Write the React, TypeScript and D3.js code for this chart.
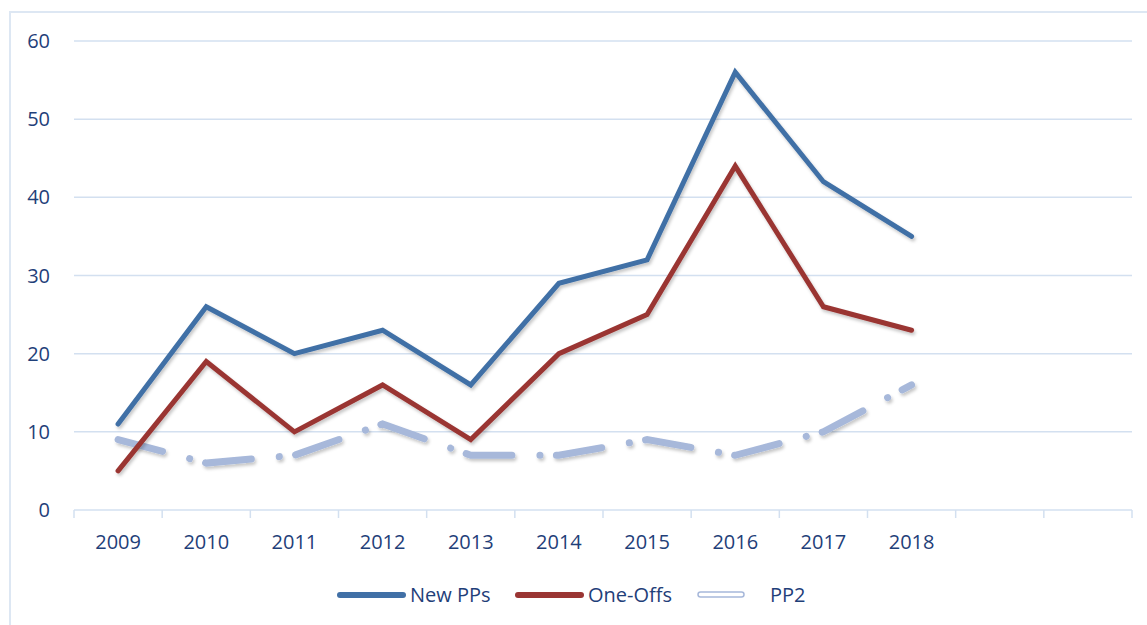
import React, { useEffect, useRef } from "react";
import * as d3 from "d3";

const years = ["2009", "2010", "2011", "2012", "2013", "2014", "2015", "2016", "2017", "2018"];
// two empty slots on the right of the axis
const emptySlots = ["_e1", "_e2"];
const newPPs = [11, 26, 20, 23, 16, 29, 32, 56, 42, 35];
const oneOffs = [5, 19, 10, 16, 9, 20, 25, 44, 26, 23];
const pp2 = [9, 6, 7, 11, 7, 7, 9, 7, 10, 16];
const yTicks = [0, 10, 20, 30, 40, 50, 60];

const textColor = "#1f4079";
const gridColor = "#d3e0f0";

export default function App() {
  const ref = useRef<SVGSVGElement>(null);

  useEffect(() => {
    const svg = d3.select(ref.current);
    svg.selectAll("*").remove();

    const font = "'Open Sans', sans-serif";
    const slots = years.concat(emptySlots);
    const x = d3.scaleBand<string>().domain(slots).range([74, 1132]);
    const y = d3.scaleLinear().domain([0, 60]).range([510, 41]);

    const defs = svg.append("defs");
    const f = defs.append("filter").attr("id", "shadow").attr("x", "-10%").attr("y", "-10%").attr("width", "120%").attr("height", "130%");
    f.append("feDropShadow").attr("dx", 1.5).attr("dy", 2.5).attr("stdDeviation", 1.8).attr("flood-color", "#000").attr("flood-opacity", 0.22);

    // frame
    svg.append("rect").attr("x", 10).attr("y", 12).attr("width", 1150).attr("height", 630)
      .attr("fill", "none").attr("stroke", "#dde7f3").attr("stroke-width", 2);

    // grid
    const grid = svg.append("g");
    grid.selectAll("line").data(yTicks.filter(t => t > 0)).join("line")
      .attr("x1", 74).attr("x2", 1132)
      .attr("y1", d => y(d)).attr("y2", d => y(d))
      .attr("stroke", gridColor).attr("stroke-width", 1.5);

    // y labels
    svg.append("g").selectAll("text").data(yTicks).join("text")
      .attr("x", 50).attr("y", d => y(d)).attr("dy", "0.35em")
      .attr("text-anchor", "end").attr("font-family", font).attr("font-size", 20)
      .attr("fill", textColor).text(d => d);

    // x axis line + boundary ticks
    const ax = svg.append("g");
    ax.append("line").attr("x1", 74).attr("x2", 1132).attr("y1", y(0)).attr("y2", y(0))
      .attr("stroke", gridColor).attr("stroke-width", 1.5);
    const bounds = slots.map(s => x(s) as number).concat([x.range()[1]]);
    ax.selectAll("line.tk").data(bounds).join("line").attr("class", "tk")
      .attr("x1", d => d).attr("x2", d => d).attr("y1", y(0)).attr("y2", y(0) + 8)
      .attr("stroke", gridColor).attr("stroke-width", 1.5);
    ax.selectAll("text").data(years).join("text")
      .attr("x", d => (x(d) as number) + x.bandwidth() / 2).attr("y", 549)
      .attr("text-anchor", "middle").attr("font-family", font).attr("font-size", 20)
      .attr("fill", textColor).text(d => d);

    const cx = (i: number) => (x(years[i]) as number) + x.bandwidth() / 2;
    const line = d3.line<number>().x((_, i) => cx(i)).y(d => y(d));

    svg.append("path").attr("d", line(pp2)).attr("fill", "none")
      .attr("stroke", "#a7b8da").attr("stroke-width", 7).attr("stroke-linecap", "round")
      .attr("stroke-dasharray", "46 28 0.1 16.4").attr("filter", "url(#shadow)");
    svg.append("path").attr("d", line(oneOffs)).attr("fill", "none")
      .attr("stroke", "#9a3533").attr("stroke-width", 5).attr("stroke-linecap", "round")
      .attr("stroke-linejoin", "miter").attr("filter", "url(#shadow)");
    svg.append("path").attr("d", line(newPPs)).attr("fill", "none")
      .attr("stroke", "#4170a6").attr("stroke-width", 5).attr("stroke-linecap", "round")
      .attr("stroke-linejoin", "miter").attr("filter", "url(#shadow)");

    // legend
    const lg = svg.append("g").attr("font-family", font).attr("font-size", 20).attr("fill", textColor);
    lg.append("line").attr("x1", 340).attr("x2", 403).attr("y1", 595).attr("y2", 595)
      .attr("stroke", "#4170a6").attr("stroke-width", 6).attr("stroke-linecap", "round");
    lg.append("text").attr("x", 410).attr("y", 595).attr("dy", "0.35em").text("New PPs");
    lg.append("line").attr("x1", 518).attr("x2", 581).attr("y1", 595).attr("y2", 595)
      .attr("stroke", "#9a3533").attr("stroke-width", 6).attr("stroke-linecap", "round");
    lg.append("text").attr("x", 588).attr("y", 595).attr("dy", "0.35em").text("One-Offs");
    lg.append("rect").attr("x", 698).attr("y", 592).attr("width", 46).attr("height", 5).attr("rx", 2.5)
      .attr("fill", "#fff").attr("stroke", "#a7b8da").attr("stroke-width", 1.5);
    lg.append("text").attr("x", 770).attr("y", 595).attr("dy", "0.35em").text("PP2");
  }, []);

  return (
    <svg ref={ref} width={1147} height={625} style={{ position: "absolute", left: 0, top: 0 }} />
  );
}
